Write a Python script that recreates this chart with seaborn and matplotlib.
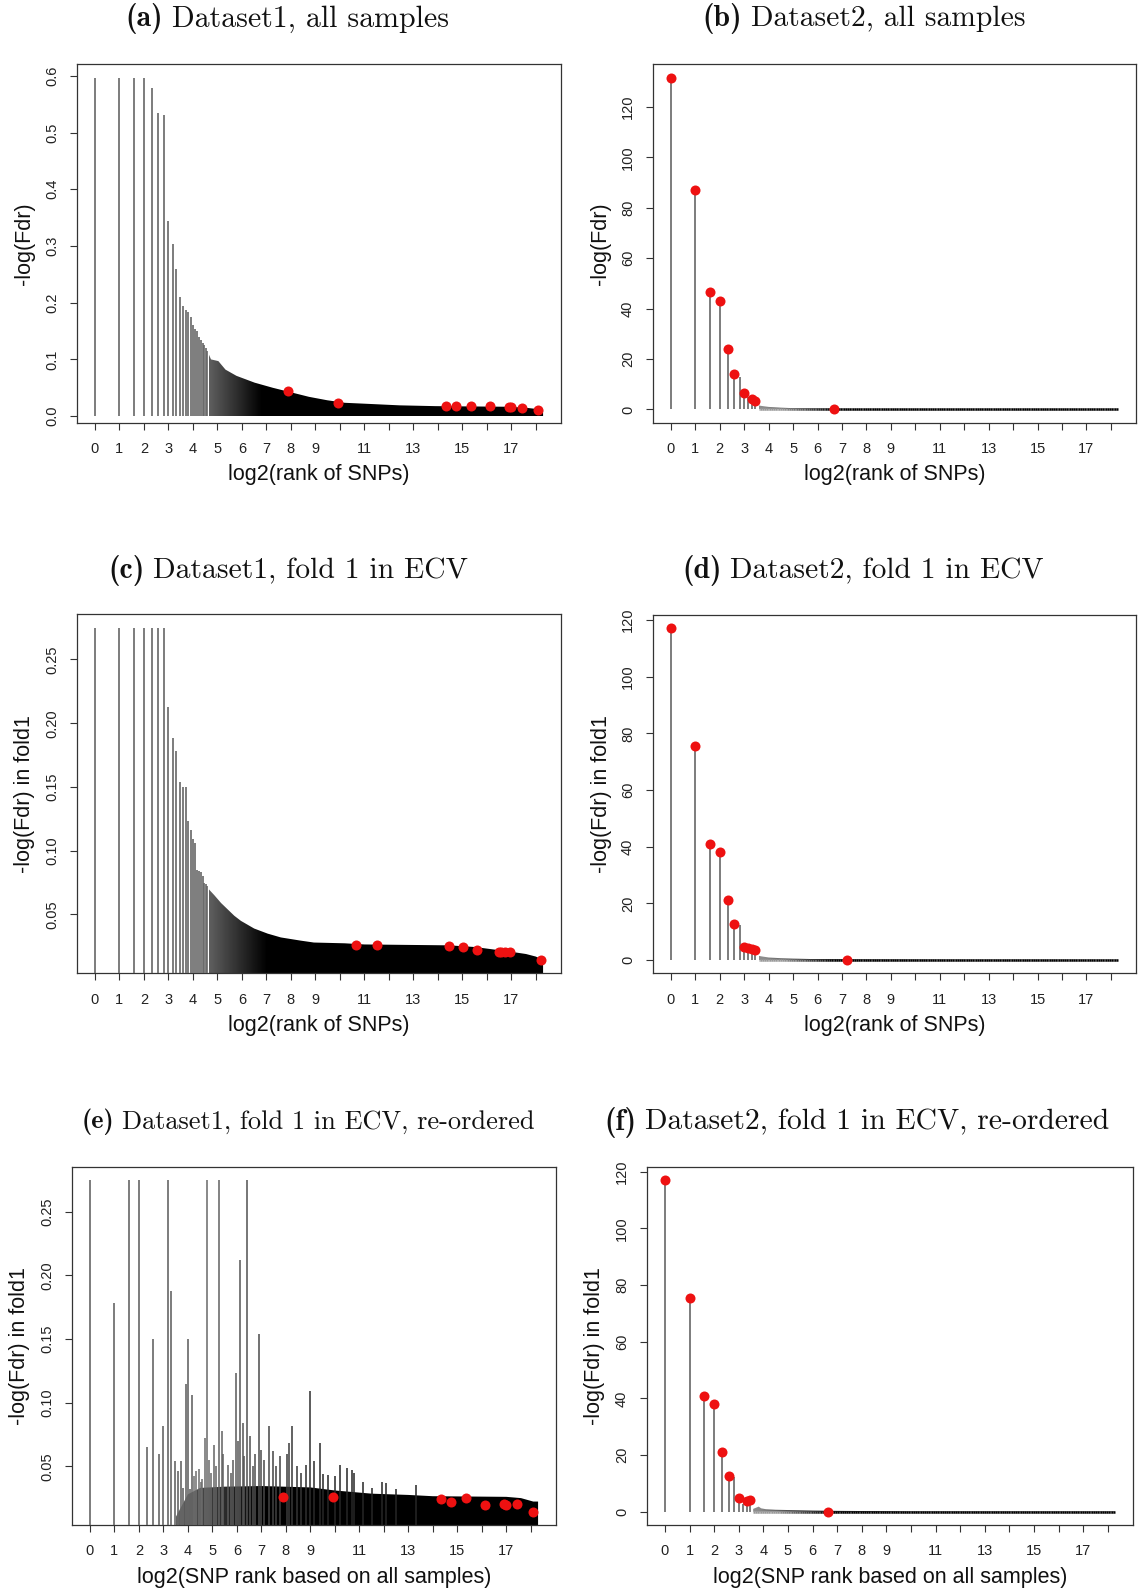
import numpy as np
import pandas as pd
import matplotlib
matplotlib.use("Agg")
import matplotlib.pyplot as plt
from matplotlib.collections import LineCollection
import seaborn as sns

# ------------------------------------------------------------------ data
n_snps = 322000                      # number of SNPs (x axis ends at log2 of it)

# Dataset1, all samples  (a)
d1_all_head = [0.597, 0.597, 0.597, 0.597, 0.579, 0.535, 0.531, 0.344, 0.303, 0.259,
               0.210, 0.194, 0.188, 0.183, 0.174, 0.160, 0.153, 0.150, 0.139, 0.135,
               0.129, 0.125, 0.120, 0.115]
d1_all_env_x = [4.64, 4.74, 5.04, 5.33, 5.78, 6.52, 7.26, 8.00, 8.74, 9.48, 10.2,
                10.96, 12.44, 13.9, 16.9, 17.6, 18.2]
d1_all_env_y = [0.110, 0.100, 0.097, 0.082, 0.071, 0.059, 0.050, 0.042, 0.034, 0.028,
                0.0235, 0.022, 0.019, 0.0176, 0.0165, 0.0147, 0.0118]
d1_dot_x = [7.90, 9.93, 14.34, 14.73, 15.36, 16.15, 16.89, 16.99, 17.44, 18.07]
d1_all_dot_y = [0.044, 0.0235, 0.0176, 0.0176, 0.0176, 0.0176, 0.0165, 0.0165, 0.0141, 0.0112]

# Dataset1, fold 1  (c)
d1_f1_head = [0.275, 0.275, 0.275, 0.275, 0.275, 0.275, 0.275, 0.2125, 0.1884, 0.1784,
              0.1542, 0.1498, 0.1498, 0.1232, 0.116, 0.109, 0.106, 0.085, 0.084, 0.083,
              0.080, 0.075, 0.074, 0.072]
d1_f1_env_x = [4.64, 4.88, 5.15, 5.42, 5.69, 5.96, 6.50, 7.05, 7.59, 8.40, 8.94, 10.2,
               11.0, 14.46, 15.5, 16.1, 16.9, 17.6, 18.0]
d1_f1_env_y = [0.070, 0.065, 0.059, 0.054, 0.049, 0.045, 0.039, 0.035, 0.032, 0.0295,
               0.028, 0.0274, 0.0265, 0.0258, 0.0245, 0.023, 0.021, 0.019, 0.017]
d1_f1_end_y = 0.0143
d1_f1_dot_x = [10.66, 11.51, 14.45, 15.03, 15.58, 16.50, 16.59, 16.73, 16.96, 18.21]
d1_f1_dot_y = [0.0264, 0.0264, 0.0251, 0.0243, 0.0225, 0.0209, 0.0209, 0.0209, 0.0203, 0.0143]

# Dataset1, fold 1, re-ordered by all-sample rank  (e)
d1_reord_head = [0.275, 0.178, 0.275, 0.275, 0.065, 0.150, 0.060, 0.082, 0.275, 0.188,
                 0.054, 0.046, 0.054, 0.033, 0.115, 0.150, 0.032, 0.106]
d1_reord_spikes = [(4.25, 0.042), (4.34, 0.046), (4.45, 0.048), (4.52, 0.038), (4.59, 0.040),
                   (4.69, 0.072), (4.76, 0.275), (4.88, 0.055), (4.95, 0.045), (5.06, 0.067),
                   (5.15, 0.050), (5.27, 0.275), (5.38, 0.078), (5.45, 0.060), (5.62, 0.051),
                   (5.75, 0.045), (5.85, 0.055), (5.95, 0.123), (6.04, 0.070), (6.13, 0.212),
                   (6.23, 0.084), (6.30, 0.058), (6.43, 0.275), (6.55, 0.074), (6.65, 0.050),
                   (6.75, 0.060), (6.90, 0.154), (6.98, 0.063), (7.10, 0.055), (7.32, 0.082),
                   (7.47, 0.062), (7.60, 0.050), (7.75, 0.058), (8.05, 0.060), (8.13, 0.068),
                   (8.27, 0.082), (8.45, 0.050), (8.60, 0.045), (8.84, 0.051), (8.98, 0.109),
                   (9.15, 0.054), (9.39, 0.068), (9.50, 0.044), (9.70, 0.043), (10.00, 0.042),
                   (10.23, 0.051), (10.48, 0.049), (10.68, 0.047), (10.79, 0.045), (11.16, 0.038),
                   (11.50, 0.033), (11.93, 0.038), (12.08, 0.037), (12.50, 0.032), (13.31, 0.035)]
d1_reord_env_x = [3.50, 4.00, 4.50, 5.50, 7.00, 9.00, 10.0, 11.5, 13.0, 14.0, 17.0, 17.6, 18.1]
d1_reord_env_y = [0.010, 0.028, 0.033, 0.034, 0.0345, 0.0334, 0.031, 0.0285, 0.0275, 0.0265,
                  0.026, 0.025, 0.0223]
d1_reord_dot_y = [0.0258, 0.0256, 0.0242, 0.0223, 0.0252, 0.0197, 0.0201, 0.0197, 0.0207, 0.0143]

# Dataset2, all samples  (b)
d2_all_head = [131.6, 87.2, 46.6, 43.0, 23.8, 13.9, 12.8, 6.7, 5.0, 4.2, 3.2]
d2_all_dot_ranks = [1, 2, 3, 4, 5, 6, 8, 10, 11]
d2_all_extra_dot = (6.66, 0.0)
d2_all_tail_x = [3.585, 3.70, 4.0, 4.5, 5.0, 5.5, 6.0, 6.6, 7.5, 9.0, 12.0]
d2_all_tail_y = [1.6, 1.4, 1.0, 0.7, 0.5, 0.4, 0.3, 0.22, 0.15, 0.10, 0.06]

# Dataset2, fold 1  (d)
d2_f1_head = [117.1, 75.4, 40.9, 38.0, 21.2, 12.8, 12.4, 4.7, 4.1, 3.8, 3.4]
d2_f1_dot_ranks = [1, 2, 3, 4, 5, 6, 8, 9, 10, 11]
d2_f1_extra_dot = (7.22, 0.0)
d2_f1_tail_x = [3.585, 3.70, 4.0, 4.5, 5.0, 5.5, 6.0, 6.6, 7.5, 9.0, 12.0]
d2_f1_tail_y = [1.5, 1.3, 0.9, 0.65, 0.5, 0.4, 0.3, 0.2, 0.14, 0.10, 0.06]

# Dataset2, fold 1, re-ordered  (f)
d2_reord_head = [117.1, 75.4, 40.9, 38.0, 21.2, 12.7, 12.1, 4.8, 2.9, 3.8, 4.1]
d2_reord_dot_ranks = [1, 2, 3, 4, 5, 6, 8, 10, 11]
d2_reord_extra_dot = (6.64, 0.0)
d2_reord_tail_x = [3.585, 3.81, 3.91, 4.1, 4.5, 5.0, 5.5, 6.0, 7.0, 8.0, 9.0, 10.0]
d2_reord_tail_y = [1.0, 1.8, 1.2, 0.9, 0.7, 0.6, 0.5, 0.4, 0.3, 0.25, 0.2, 0.12]

x_tick_values = list(range(0, 19))
x_tick_labels = [str(v) if (v < 10 or v % 2 == 1) else "" for v in x_tick_values]

titles = {
    "a": ("(a)", "Dataset1, all samples"),
    "b": ("(b)", "Dataset2, all samples"),
    "c": ("(c)", "Dataset1, fold 1 in ECV"),
    "d": ("(d)", "Dataset2, fold 1 in ECV"),
    "e": ("(e)", "Dataset1, fold 1 in ECV, re-ordered"),
    "f": ("(f)", "Dataset2, fold 1 in ECV, re-ordered"),
}
ylabels = {"a": "-log(Fdr)", "b": "-log(Fdr)", "c": "-log(Fdr) in fold1",
           "d": "-log(Fdr) in fold1", "e": "-log(Fdr) in fold1", "f": "-log(Fdr) in fold1"}
xlabels = {"a": "log2(rank of SNPs)", "b": "log2(rank of SNPs)", "c": "log2(rank of SNPs)",
           "d": "log2(rank of SNPs)", "e": "log2(SNP rank based on all samples)",
           "f": "log2(SNP rank based on all samples)"}

# ------------------------------------------------------------------ style / layout
sns.set_theme(style="white")
plt.rcParams["font.family"] = ["Liberation Sans", "DejaVu Sans"]

W, H = 1138, 1589
fig = plt.figure(figsize=(W / 100, H / 100), dpi=100)

boxes = {  # left, right, top, bottom (pixels)
    "a": (77, 561, 64.3, 422.7), "b": (653, 1136, 64.3, 422.7),
    "c": (77, 561, 614.3, 973.3), "d": (653, 1136, 615, 973.3),
    "e": (72, 556, 1166.7, 1525), "f": (647, 1133, 1166.7, 1525),
}
# centre x, centre y, target width (pixels)
title_pos = {"a": (287, 19, 324), "b": (864, 19, 323), "c": (288, 571, 360),
             "d": (863, 571, 362), "e": (308, 1122, 454), "f": (857, 1122, 505)}

XMAX = np.log2(n_snps)
STEM = "#666666"
RED = "#ee1111"


def make_ax(key):
    l, r, t, b = boxes[key]
    return fig.add_axes([l / W, 1 - b / H, (r - l) / W, (b - t) / H])


def shade(x, g0, g1, start):
    t = np.clip((np.asarray(x, float) - g0) / (g1 - g0), 0, 1)
    return start * (1 - t)


def gradient_fill(ax, x, y, g0, g1, start=0.38):
    x = np.asarray(x, float)
    y = np.asarray(y, float)
    poly = ax.fill_between(x, 0, y, facecolor="none", edgecolor="none", zorder=2)
    xs = np.linspace(x.min(), x.max(), 600)
    g = shade(xs, g0, g1, start)
    img = ax.imshow(g[None, :], extent=(x.min(), x.max(), 0, y.max()), origin="lower",
                    aspect="auto", cmap="gray", vmin=0, vmax=1,
                    interpolation="bilinear", zorder=2)
    img.set_clip_path(poly.get_paths()[0], transform=ax.transData)


def style_ax(ax, key, ylim, yticks, yfmt):
    l, r, t, b = boxes[key]
    wpx, hpx = r - l, b - t
    ax.set_xlim(-0.04 * XMAX, 1.04 * XMAX)
    ax.set_ylim(*ylim)
    ax.set_xticks(x_tick_values)
    ax.set_xticklabels(x_tick_labels)
    ax.set_yticks(yticks)
    ax.set_yticklabels([yfmt.format(v) for v in yticks])
    ax.tick_params(direction="out", length=5, width=0.8, color="#333333", pad=9,
                   labelsize=10.5, labelcolor="#222222", bottom=True, left=True,
                   top=False, right=False)
    ax.tick_params(axis="y", labelrotation=90, pad=8)
    for lbl in ax.get_yticklabels():
        lbl.set_va("center")
    for sp in ax.spines.values():
        sp.set_visible(True)
        sp.set_color("#333333")
        sp.set_linewidth(0.9)
    ax.grid(False)
    ax.set_facecolor("white")
    ax.set_ylabel(ylabels[key], fontsize=15.5, color="#111111")
    ax.set_xlabel(xlabels[key], fontsize=15.5, color="#111111")
    ax.yaxis.label.set_va("center")
    ax.xaxis.label.set_va("center")
    ax.yaxis.set_label_coords(-52 / wpx, 0.5)
    ax.xaxis.set_label_coords(0.5, -52 / hpx)


def r_ylim(vals):
    lo, hi = float(np.min(vals)), float(np.max(vals))
    d = hi - lo
    return lo - 0.04 * d, hi + 0.04 * d


def dots(ax, x, y):
    df = pd.DataFrame({"x": x, "y": y})
    sns.scatterplot(data=df, x="x", y="y", ax=ax, color=RED, s=52, linewidth=0,
                    zorder=5, legend=False)


def dataset1_panel(key, head, env_x, env_y, end_y, dot_x, dot_y, ylim, yticks, yfmt,
                   g0, g1, spikes=None):
    ax = make_ax(key)
    hx = np.log2(np.arange(1, len(head) + 1))
    ex = list(env_x) + [XMAX]
    ey = list(env_y) + [end_y]
    gradient_fill(ax, ex, ey, g0, g1)
    ax.vlines(hx, 0, head, color=STEM, lw=1.2, zorder=3)
    if spikes is not None:
        sx, sy = zip(*spikes)
        cols = [str(0.15 + 0.3 * float(shade(v, 4.0, 9.5, 1.0))) for v in sx]
        ax.vlines(sx, 0, sy, colors=cols, lw=1.1, zorder=3)
    dots(ax, dot_x, dot_y)
    style_ax(ax, key, ylim, yticks, yfmt)
    return ax


def dataset2_panel(key, head, dot_ranks, extra_dot, tail_x, tail_y, ylim):
    ax = make_ax(key)
    hx = np.log2(np.arange(1, len(head) + 1))
    tx = list(tail_x) + [XMAX]
    ty = list(tail_y) + [tail_y[-1] * 0.7]
    gradient_fill(ax, tx, ty, 3.8, 6.6, start=0.55)
    # the zero line formed by the many tiny stems
    pts = np.array([[v, 0.0] for v in np.linspace(tx[0], tx[-1], 200)])
    segs = np.stack([pts[:-1], pts[1:]], axis=1)
    cols = [(g, g, g) for g in shade(pts[:-1, 0], 4.5, 6.6, 0.6)]
    ax.add_collection(LineCollection(segs, colors=cols, linewidths=1.8, zorder=2))
    ax.vlines(hx, 0, head, color=STEM, lw=1.2, zorder=3)
    dx = [np.log2(r) for r in dot_ranks] + [extra_dot[0]]
    dy = [head[r - 1] for r in dot_ranks] + [extra_dot[1]]
    dots(ax, dx, dy)
    style_ax(ax, key, ylim, list(range(0, 121, 20)), "{:d}")
    return ax


# (a)
dataset1_panel("a", d1_all_head, d1_all_env_x, d1_all_env_y, d1_all_env_y[-1] * 0.95,
               d1_dot_x, d1_all_dot_y,
               r_ylim(d1_all_head + d1_all_env_y), [0.0, 0.1, 0.2, 0.3, 0.4, 0.5, 0.6],
               "{:.1f}", 4.6, 6.8)
# (c)
dataset1_panel("c", d1_f1_head, d1_f1_env_x, d1_f1_env_y, d1_f1_end_y,
               d1_f1_dot_x, d1_f1_dot_y,
               r_ylim(d1_f1_head + d1_f1_env_y + [d1_f1_end_y]),
               [0.05, 0.10, 0.15, 0.20, 0.25], "{:.2f}", 4.6, 7.0)
# (e)
dataset1_panel("e", d1_reord_head, d1_reord_env_x, d1_reord_env_y, d1_reord_env_y[-1],
               d1_dot_x, d1_reord_dot_y,
               r_ylim(d1_f1_head + d1_f1_env_y + [d1_f1_end_y]),
               [0.05, 0.10, 0.15, 0.20, 0.25], "{:.2f}", 3.6, 7.0,
               spikes=d1_reord_spikes)
# (b)
dataset2_panel("b", d2_all_head, d2_all_dot_ranks, d2_all_extra_dot,
               d2_all_tail_x, d2_all_tail_y, r_ylim(d2_all_head + [0.0]))
# (d)
dataset2_panel("d", d2_f1_head, d2_f1_dot_ranks, d2_f1_extra_dot,
               d2_f1_tail_x, d2_f1_tail_y, r_ylim(d2_f1_head + [0.0]))
# (f)
dataset2_panel("f", d2_reord_head, d2_reord_dot_ranks, d2_reord_extra_dot,
               d2_reord_tail_x, d2_reord_tail_y, r_ylim(d2_reord_head + [0.0]))

# ------------------------------------------------------------------ titles
renderer = fig.canvas.get_renderer()
BASE_FS = 19.0
for key, (tag, text) in titles.items():
    cx, cy, target = title_pos[key]
    t1 = fig.text(0, 1 - cy / H, tag, fontfamily="cmb10", fontsize=BASE_FS, va="center",
                  ha="left", color="#111111")
    t2 = fig.text(0, 1 - cy / H, text, fontfamily="cmr10", fontsize=BASE_FS, va="center",
                  ha="left", color="#111111")
    gap = 0.30 * BASE_FS * 100 / 72
    w = t1.get_window_extent(renderer).width + gap + t2.get_window_extent(renderer).width
    fs = BASE_FS * target / w
    t1.set_fontsize(fs)
    t2.set_fontsize(fs)
    w1 = t1.get_window_extent(renderer).width
    w2 = t2.get_window_extent(renderer).width
    gap = 0.30 * fs * 100 / 72
    x0 = cx - (w1 + gap + w2) / 2
    t1.set_x(x0 / W)
    t2.set_x((x0 + w1 + gap) / W)

fig.savefig("out.png", dpi=100, facecolor="white")
